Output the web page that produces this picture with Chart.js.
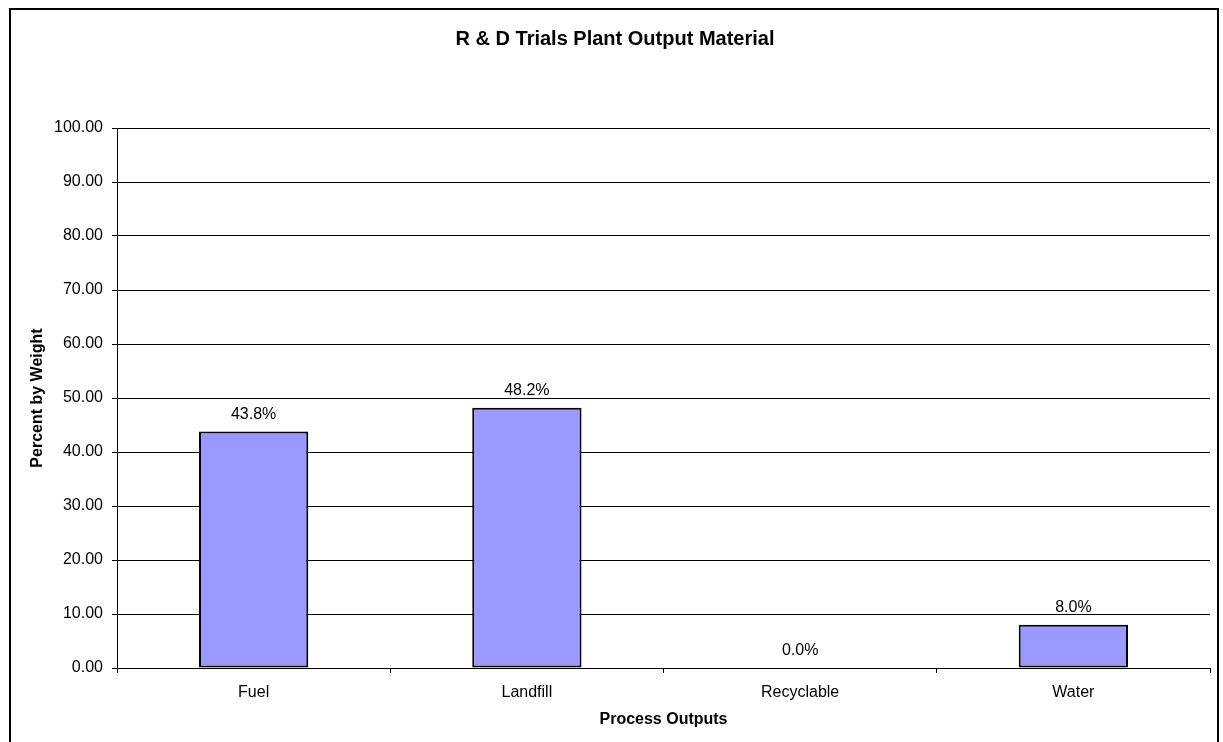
<!DOCTYPE html>
<html>
<head>
<meta charset="utf-8">
<title>R & D Trials Plant Output Material</title>
<script src="https://cdn.jsdelivr.net/npm/chart.js@4"></script>
<style>
  html, body { margin: 0; padding: 0; background: #fff; overflow: hidden; }
  #frame { position: absolute; left: 9px; top: 8px; width: 1206px; height: 800px; border: 2px solid #000; }
  #chart { position: absolute; left: 0; top: 0; }
</style>
</head>
<body>
<div id="frame"></div>
<canvas id="chart" width="1223" height="742"></canvas>
<script>
const categories = ['Fuel', 'Landfill', 'Recyclable', 'Water'];
const percentByWeight = [43.8, 48.2, 0.0, 8.0];
const yMin = 0;
const yMax = 100;
const yStep = 10;

const FONT = '"Liberation Sans", Arial, sans-serif';

// labels above each bar, like Excel's "show value"
const barLabels = {
  id: 'barLabels',
  afterDatasetsDraw(chart) {
    const ctx = chart.ctx;
    const meta = chart.getDatasetMeta(0);
    ctx.save();
    ctx.font = '16px ' + FONT;
    ctx.fillStyle = '#000';
    ctx.textAlign = 'center';
    ctx.textBaseline = 'middle';
    meta.data.forEach((bar, i) => {
      ctx.fillText(percentByWeight[i].toFixed(1) + '%', bar.x, bar.y - 17);
    });
    ctx.restore();
  }
};

new Chart(document.getElementById('chart').getContext('2d'), {
  type: 'bar',
  data: {
    labels: categories,
    datasets: [{
      data: percentByWeight,
      backgroundColor: '#9999FF',
      borderColor: '#000',
      borderWidth: 2,
      borderSkipped: false,
      barPercentage: 0.4,
      categoryPercentage: 1.0
    }]
  },
  options: {
    responsive: false,
    devicePixelRatio: 1,
    animation: false,
    layout: { padding: { left: 20, right: 13, top: 0, bottom: 0 } },
    plugins: {
      legend: { display: false },
      tooltip: { enabled: false },
      title: {
        display: true,
        text: 'R & D Trials Plant Output Material',
        color: '#000',
        font: { family: FONT, size: 20, weight: 'bold' },
        padding: { top: 27, bottom: 77 }
      }
    },
    scales: {
      x: {
        offset: true,
        grid: { offset: true, drawOnChartArea: false, drawTicks: true, tickLength: 5, tickColor: '#000' },
        border: { display: true, color: '#000', width: 1 },
        ticks: { color: '#000', padding: 10, font: { family: FONT, size: 16 } },
        title: {
          display: true,
          text: 'Process Outputs',
          color: '#000',
          font: { family: FONT, size: 16, weight: 'bold' },
          padding: { top: 0, bottom: 12.4 }
        },
        afterFit(scale) { scale.height = 74; }
      },
      y: {
        min: yMin,
        max: yMax,
        grid: { color: '#000', lineWidth: 1, drawTicks: true, tickLength: 5, tickColor: '#000' },
        border: { display: true, color: '#000', width: 1 },
        ticks: {
          stepSize: yStep,
          color: '#000',
          padding: 9,
          font: { family: FONT, size: 16 },
          callback: v => v.toFixed(2)
        },
        title: {
          display: true,
          text: 'Percent by Weight',
          color: '#000',
          font: { family: FONT, size: 16, weight: 'bold' },
          padding: { top: 8, bottom: 0 }
        },
        afterFit(scale) { scale.width = 97; }
      }
    }
  },
  plugins: [barLabels]
});
</script>
</body>
</html>
